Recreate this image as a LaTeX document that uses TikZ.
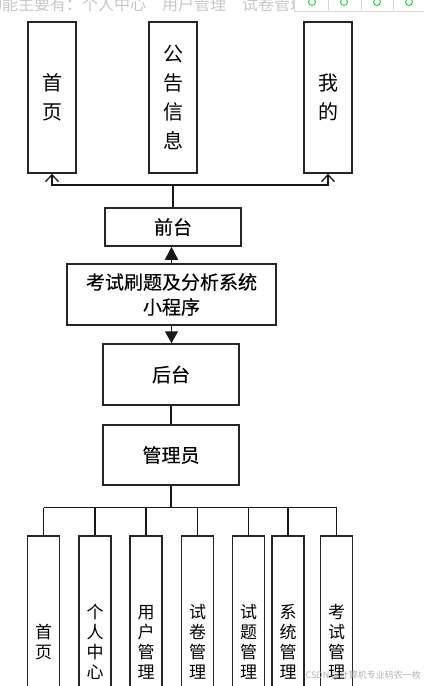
\documentclass[tikz,border=0pt]{standalone}
\usepackage{fontspec}
\newfontfamily\cjk{Noto Sans CJK SC}
\newfontfamily\cjkm[FakeBold=0.3]{Noto Sans CJK SC}
\usetikzlibrary{arrows.meta}
\tikzset{
  box/.style={draw=black!85, line width=1.5pt, fill=white, inner sep=0pt, align=center, font=\cjk},
  vbox/.style={box, minimum width=48pt, minimum height=151pt, font=\cjk\fontsize{20}{29}\selectfont},
  sbox/.style={box, minimum width=32pt, minimum height=212pt, font=\cjk\fontsize{17}{20}\selectfont},
  hbox/.style={box, minimum width=136pt, font=\cjkm\fontsize{19}{25}\selectfont},
  conn/.style={line width=1.5pt, black!90},
  faint/.style={text=black!22, font=\cjk\fontsize{16}{16}\selectfont, inner sep=0pt}
}
\begin{document}
\begin{tikzpicture}[x=1pt,y=-1pt]
\useasboundingbox (0,0) rectangle (424,686);
\begin{scope}
\clip (0,0) rectangle (424,686);
% faint screenshot header
\node[faint, anchor=west] (hdr) at (-14,4) {功能主要有：个人中心\quad 用户管理\quad 试卷管理};
\node[draw=black!15, fill=white, line width=0.6pt, minimum width=140pt, minimum height=14pt, inner sep=0pt] (tb) at (364,4) {};
\foreach \i/\xx in {1/312,2/344,3/377,4/409}{
  \node[circle, draw=green!55!teal, line width=0.8pt, minimum size=7pt, inner sep=0pt] (ic\i) at (\xx,2) {};
}
\foreach \xx in {328,361,393}{ \draw[black!15, line width=0.6pt] (\xx,-3) -- (\xx,10); }

% top boxes
\node[vbox] (t1) at (52,97.5) {首\\页};
\node[vbox] (t2) at (173,97.5) {公\\告\\信\\息};
\node[vbox] (t3) at (328,97.5) {我\\的};

% middle boxes
\node[hbox, minimum height=38pt] (qt) at (173,227) {前台};
\node[hbox, minimum width=209pt, minimum height=61pt] (sys) at (171.5,294.5) {考试刷题及分析系统\\小程序};
\node[hbox, minimum height=61pt] (ht) at (171,374.5) {后台};
\node[hbox, minimum height=60pt] (gly) at (171,455) {管理员};

% bottom boxes
\node[sbox] (b1) at (43.5,642) {首\\页};
\node[sbox] (b2) at (95,642) {个\\人\\中\\心};
\node[sbox] (b3) at (146,642) {用\\户\\管\\理};
\node[sbox] (b4) at (197.5,642) {试\\卷\\管\\理};
\node[sbox] (b5) at (248.5,642) {试\\题\\管\\理};
\node[sbox] (b6) at (288,642) {系\\统\\管\\理};
\node[sbox] (b7) at (336.5,642) {考\\试\\管\\理};

% connectors top
\coordinate (j) at (173,185);
\draw[conn] (qt.north) -- (j);
\draw[conn, -{Straight Barb[length=7pt,width=13pt,line width=1.3pt]}] (j) -| (t1.south);
\draw[conn, -{Straight Barb[length=7pt,width=13pt,line width=1.3pt]}] (j) -| (t3.south);

% arrows middle
\draw[conn, -{Triangle[length=13pt,width=13pt]}] (171.5,264) coordinate (s1) -- (s1 |- qt.south);
\draw[conn, -{Triangle[length=12pt,width=13pt]}] (171.5,325) coordinate (s2) -- (s2 |- ht.north);
\draw[conn] (ht.south) -- (gly.north);

% bottom tree
\coordinate (bar) at (171,507.5);
\draw[line width=2.6pt, black!90] (gly.south) -- (bar);
\draw[line width=1.8pt, black!90] (b1.north |- bar) -- (b7.north |- bar);
\foreach \b in {b1,b2,b3,b4,b5,b6,b7}{
  \draw[conn] (\b.north |- bar) -- (\b.north);
}

% watermark
\node[text=black!30, font=\cjk\fontsize{9}{9}\selectfont, inner sep=0pt, anchor=east] (wm) at (421,675) {CSDN @计算机专业码农一枚};
\end{scope}
\end{tikzpicture}
\end{document}
